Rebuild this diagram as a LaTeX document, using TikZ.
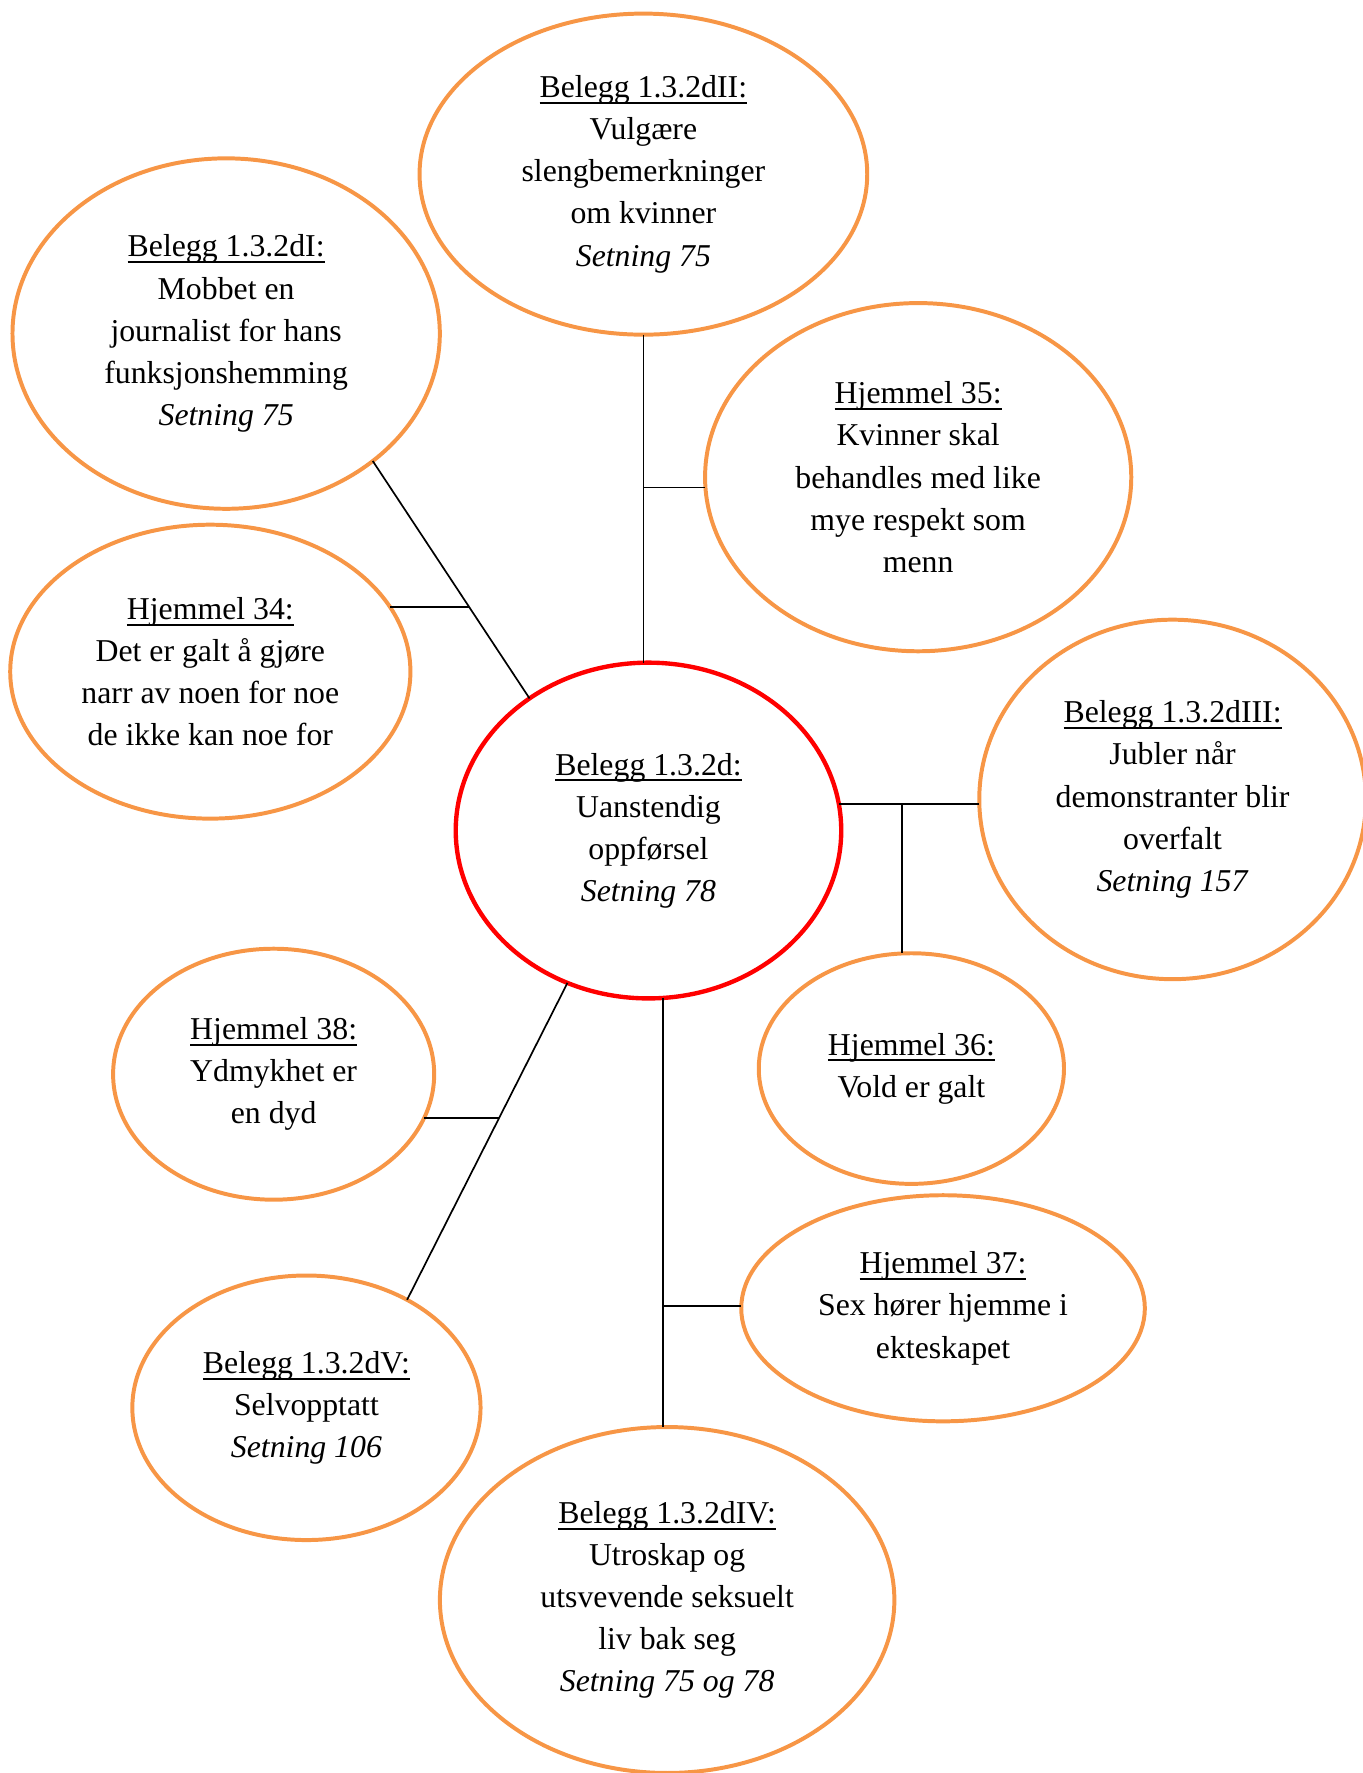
\documentclass[tikz,border=0pt]{standalone}
\usepackage{fontspec}
\setmainfont{Liberation Serif}
\usepackage{tikz}
\usetikzlibrary{shapes.geometric,calc}
\definecolor{bubbleorange}{RGB}{247,150,70}
\newcommand{\uhead}[1]{\setbox0=\hbox{#1}\rlap{\rule[-3.2pt]{\wd0}{1pt}}\box0}

\begin{document}
\begin{tikzpicture}[x=0.02cm,y=-0.02cm,
                bubble/.style={ellipse,draw=bubbleorange,line width=2pt,inner sep=0pt,outer sep=0pt,align=center,font=\fontsize{16}{21.2}\selectfont},
                core/.style={bubble,draw=red,line width=2.2pt},
                link/.style={line width=0.85pt}]
\useasboundingbox (0,0) rectangle (1205,1568);
%Nodes
    \node[core,minimum width=6.82cm,minimum height=5.94cm] (d) at (573.5,734.5) {\uhead{Belegg 1.3.2d:}\\Uanstendig\\oppførsel\\\textit{Setning 78}};
    \node[bubble,minimum width=7.92cm,minimum height=5.68cm] (dII) at (569,154) {\uhead{Belegg 1.3.2dII:}\\Vulgære\\slengbemerkninger\\om kvinner\\\textit{Setning 75}};
    \node[bubble,minimum width=7.56cm,minimum height=6.2cm] (dI) at (200,295) {\uhead{Belegg 1.3.2dI:}\\Mobbet en\\journalist for hans\\funksjonshemming\\\textit{Setning 75}};
    \node[bubble,minimum width=7.54cm,minimum height=6.16cm] (H35) at (812,422) {\uhead{Hjemmel 35:}\\Kvinner skal\\behandles med like\\mye respekt som\\menn};
    \node[bubble,minimum width=7.08cm,minimum height=5.2cm] (H34) at (186,594) {\uhead{Hjemmel 34:}\\Det er galt å gjøre\\narr av noen for noe\\de ikke kan noe for};
    \node[bubble,minimum width=6.84cm,minimum height=6.36cm] (dIII) at (1037,707) {\uhead{Belegg 1.3.2dIII:}\\Jubler når\\demonstranter blir\\overfalt\\\textit{Setning 157}};
    \node[bubble,minimum width=5.4cm,minimum height=4.08cm] (H36) at (806,945) {\uhead{Hjemmel 36:}\\Vold er galt};
    \node[bubble,minimum width=5.68cm,minimum height=4.44cm] (H38) at (242,950) {\uhead{Hjemmel 38:}\\Ydmykhet er\\en dyd};
    \node[bubble,minimum width=7.14cm,minimum height=4.0cm] (H37) at (834,1157) {\uhead{Hjemmel 37:}\\Sex hører hjemme i\\ekteskapet};
    \node[bubble,minimum width=6.16cm,minimum height=4.68cm] (dV) at (271,1245) {\uhead{Belegg 1.3.2dV:}\\Selvopptatt\\\textit{Setning 106}};
    \node[bubble,minimum width=8.04cm,minimum height=6.12cm] (dIV) at (590,1415) {\uhead{Belegg 1.3.2dIV:}\\Utroskap og\\utsvevende seksuelt\\liv bak seg\\\textit{Setning 75 og 78}};
%Lines
    \draw[link] (dII.south) -- coordinate[pos=0.466] (j1) (dII.south |- d.north);
    \draw[link] (j1) -- (j1 -| H35.west);
    \draw[link] (dI.-41) -- coordinate[pos=0.614] (j2) (d.132);
    \draw[link] (j2) -- (H34.20 |- j2);
    \draw[link] (d.8) -- coordinate[pos=0.45] (j3) (d.8 -| dIII.west);
    \draw[link] (j3) -- (j3 |- H36.north);
    \draw[link] (d.242) -- coordinate[pos=0.427] (j4) (dV.47);
    \draw[link] (j4) -- (H38.-16 |- j4);
    \draw[link] (d.-85) -- coordinate[pos=0.718] (j5) (d.-85 |- dIV.north);
    \draw[link] (j5) -- (j5 -| H37.west);
\end{tikzpicture}
\end{document}
